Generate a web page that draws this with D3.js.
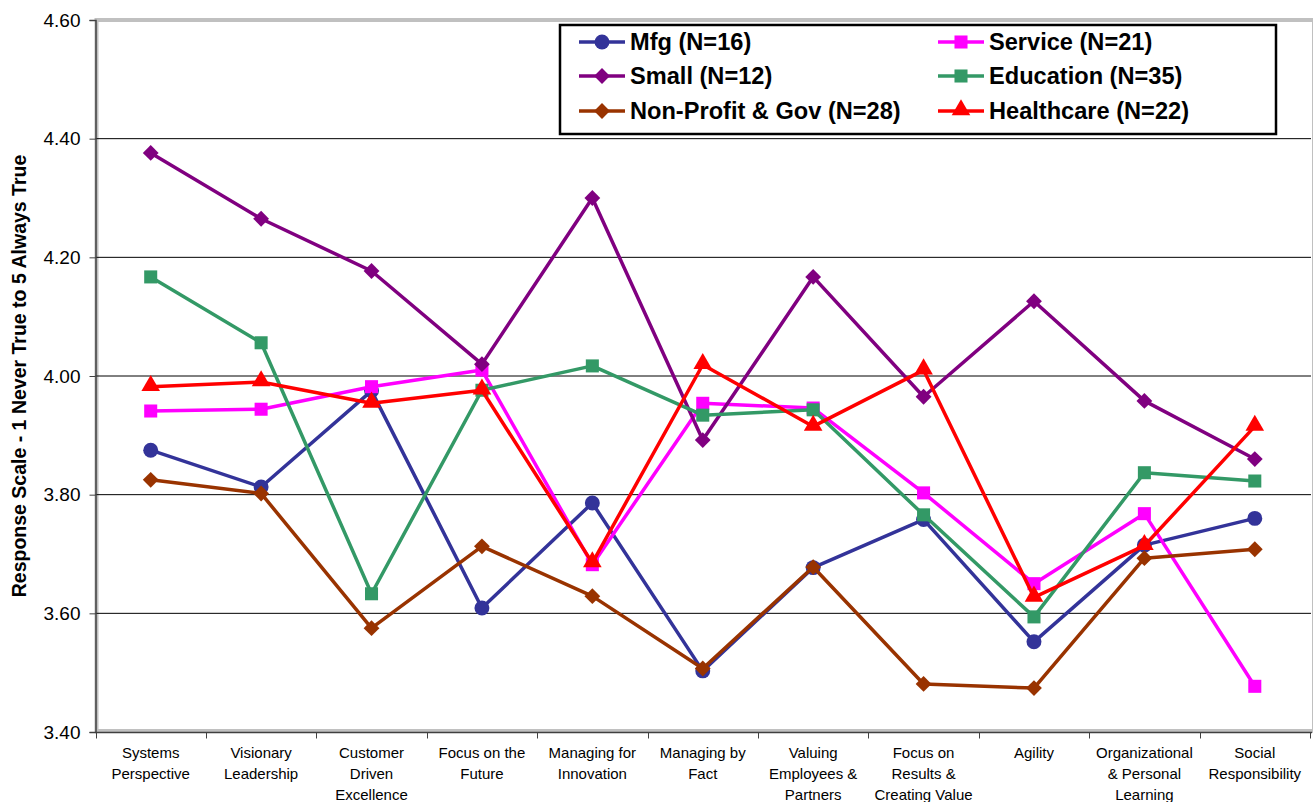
<!DOCTYPE html>
<html>
<head>
<meta charset="utf-8">
<script src="https://cdn.jsdelivr.net/npm/d3@7"></script>
<style>
  html, body { margin: 0; padding: 0; background: #fff; }
  svg { display: block; font-family: Arial, "Liberation Sans", sans-serif; }
</style>
</head>
<body>
<svg id="chart" width="1313" height="802"></svg>
<script>
// Baldrige categories (x axis), with the line breaks used for their labels
const categories = [
  "Systems\nPerspective", "Visionary\nLeadership", "Customer\nDriven\nExcellence",
  "Focus on the\nFuture", "Managing for\nInnovation", "Managing by\nFact",
  "Valuing\nEmployees &\nPartners", "Focus on\nResults &\nCreating Value", "Agility",
  "Organizational\n& Personal\nLearning", "Social\nResponsibility"
];

// Mean responses per sector
const mfg        = [3.875, 3.813, 3.975, 3.609, 3.786, 3.503, 3.677, 3.758, 3.552, 3.715, 3.760];
const service    = [3.941, 3.944, 3.982, 4.010, 3.682, 3.954, 3.946, 3.803, 3.650, 3.768, 3.477];
const small      = [4.376, 4.265, 4.177, 4.020, 4.300, 3.892, 4.167, 3.965, 4.126, 3.958, 3.860];
const education  = [4.167, 4.056, 3.633, 3.976, 4.017, 3.934, 3.943, 3.766, 3.594, 3.837, 3.823];
const nonProfit  = [3.825, 3.802, 3.575, 3.713, 3.629, 3.507, 3.678, 3.481, 3.474, 3.693, 3.708];
const healthcare = [3.982, 3.990, 3.954, 3.976, 3.685, 4.019, 3.915, 4.010, 3.627, 3.714, 3.915];

const seriesNames = ["Mfg (N=16)", "Service (N=21)", "Small (N=12)", "Education (N=35)",
                     "Non-Profit & Gov (N=28)", "Healthcare (N=22)"];

const yTicks = [3.40, 3.60, 3.80, 4.00, 4.20, 4.40, 4.60];
const yTitle = "Response Scale - 1 Never True to 5 Always True";

const series = [
  { name: seriesNames[0], values: mfg,        color: "#333399", marker: "circle" },
  { name: seriesNames[1], values: service,    color: "#FF00FF", marker: "square" },
  { name: seriesNames[2], values: small,      color: "#800080", marker: "diamond" },
  { name: seriesNames[3], values: education,  color: "#339966", marker: "square" },
  { name: seriesNames[4], values: nonProfit,  color: "#993300", marker: "diamond" },
  { name: seriesNames[5], values: healthcare, color: "#FF0000", marker: "triangle" }
];

const svg = d3.select("#chart");
const plot = { left: 95.5, right: 1310, top: 20, bottom: 732 };

const x = d3.scaleBand().domain(categories).range([plot.left, plot.right]).padding(0);
const cx = c => x(c) + x.bandwidth() / 2;
const y = d3.scaleLinear().domain([3.4, 4.6]).range([plot.bottom, plot.top]);

// plot-area frame (light grey border)
svg.append("rect")
  .attr("x", plot.left + 1).attr("y", plot.top)
  .attr("width", 1313 - plot.left).attr("height", plot.bottom - plot.top - 1)
  .attr("fill", "none").attr("stroke", "#c0c0c0").attr("stroke-width", 4);

// horizontal gridlines
svg.append("g").selectAll("line")
  .data(yTicks.filter(t => t > 3.4 && t < 4.6))
  .join("line")
  .attr("x1", plot.left).attr("x2", plot.right + 1)
  .attr("y1", d => y(d)).attr("y2", d => y(d))
  .attr("stroke", "#000").attr("stroke-width", 1);

// y axis
const yAxis = svg.append("g")
  .attr("transform", `translate(${plot.left},0)`)
  .call(d3.axisLeft(y).tickValues(yTicks).tickFormat(d3.format(".2f")).tickSize(6).tickPadding(9));
yAxis.select(".domain").attr("stroke", "#404040").attr("stroke-width", 1.5);
yAxis.selectAll(".tick line").attr("stroke", "#404040");
yAxis.selectAll(".tick text").attr("font-size", 19).attr("fill", "#000")
  .attr("font-family", "Arial, 'Liberation Sans', sans-serif");

// x axis with ticks at category boundaries
const xAxisG = svg.append("g").attr("transform", `translate(0,${plot.bottom + 0.5})`);
xAxisG.append("line").attr("x1", plot.left).attr("x2", plot.right + 2)
  .attr("stroke", "#404040").attr("stroke-width", 1.5);
const bounds = categories.map(c => x(c)).concat([plot.right]);
xAxisG.selectAll("line.tk").data(bounds).join("line").attr("class", "tk")
  .attr("x1", d => Math.round(d) + 0.5).attr("x2", d => Math.round(d) + 0.5)
  .attr("y1", 0).attr("y2", 6).attr("stroke", "#404040");

// category labels
const xLabels = svg.append("g").selectAll("text").data(categories).join("text")
  .attr("x", d => cx(d)).attr("y", 758)
  .attr("text-anchor", "middle").attr("font-size", 15).attr("fill", "#000");
xLabels.each(function (d) {
  const t = d3.select(this);
  d.split("\n").forEach((line, i) => {
    t.append("tspan").attr("x", cx(d)).attr("dy", i === 0 ? 0 : 21).text(line);
  });
});

// y-axis title
svg.append("text")
  .attr("transform", `translate(26,${376}) rotate(-90)`)
  .attr("text-anchor", "middle").attr("font-size", 19.5).attr("font-weight", "bold")
  .attr("fill", "#000").text(yTitle);

// marker shapes
function markerPath(kind) {
  if (kind === "circle") return d3.symbol(d3.symbolCircle, 175)();
  if (kind === "square") return d3.symbol(d3.symbolSquare, 170)();
  if (kind === "diamond") return d3.symbol(d3.symbolSquare, 125)();
  return d3.symbol(d3.symbolTriangle, 150)();
}
function markerTransform(kind, px, py) {
  if (kind === "diamond") return `translate(${px},${py}) rotate(45)`;
  if (kind === "triangle") return `translate(${px},${py - 1})`;
  return `translate(${px},${py})`;
}

const line = d3.line().x((d, i) => cx(categories[i])).y(d => y(d));

series.forEach(s => {
  const g = svg.append("g");
  g.append("path").datum(s.values).attr("d", line)
    .attr("fill", "none").attr("stroke", s.color).attr("stroke-width", 3.5)
    .attr("stroke-linejoin", "round");
  g.selectAll("path.m").data(s.values).join("path").attr("class", "m")
    .attr("d", markerPath(s.marker))
    .attr("transform", (d, i) => markerTransform(s.marker, cx(categories[i]), y(d)))
    .attr("fill", s.color);
});

// legend
const legend = svg.append("g");
legend.append("rect").attr("x", 560).attr("y", 25).attr("width", 716).attr("height", 109)
  .attr("fill", "#fff").attr("stroke", "#000").attr("stroke-width", 2.5);
const colX = [579, 938];
const rowY = [42, 76, 111];
series.forEach((s, i) => {
  const lx = colX[i % 2], ly = rowY[Math.floor(i / 2)];
  const e = legend.append("g");
  e.append("line").attr("x1", lx).attr("x2", lx + 46).attr("y1", ly).attr("y2", ly)
    .attr("stroke", s.color).attr("stroke-width", 3.5);
  e.append("path").attr("d", markerPath(s.marker))
    .attr("transform", markerTransform(s.marker, lx + 23, ly)).attr("fill", s.color);
  e.append("text").attr("x", lx + 51).attr("y", ly).attr("dy", "0.36em")
    .attr("font-size", 23.6).attr("font-weight", "bold").attr("fill", "#000").text(s.name);
});
</script>
</body>
</html>
